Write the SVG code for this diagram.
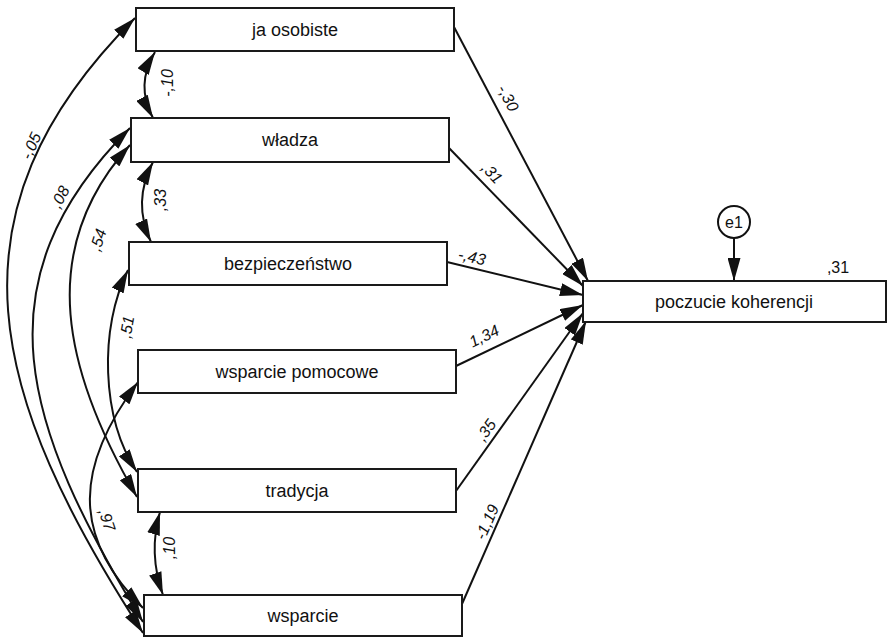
<svg xmlns="http://www.w3.org/2000/svg" width="887" height="638" viewBox="0 0 887 638">
<style>
.box{fill:#fff;stroke:#1a1a1a;stroke-width:2}
.bt{font-family:"Liberation Sans",Arial,sans-serif;font-size:18px;fill:#111;text-anchor:middle;dominant-baseline:central}
.lb{font-family:"Liberation Sans",Arial,sans-serif;font-size:16px;font-style:italic;fill:#111;text-anchor:middle;dominant-baseline:central}
.lu{font-family:"Liberation Sans",Arial,sans-serif;font-size:16px;fill:#111;text-anchor:middle;dominant-baseline:central}
.c{fill:none;stroke:#111;stroke-width:2}
.one{marker-end:url(#ah)}
.two{marker-start:url(#ah);marker-end:url(#ah)}
</style>
<defs>
<marker id="ah" viewBox="0 0 23 13" refX="23" refY="6.5" markerWidth="23" markerHeight="13" markerUnits="userSpaceOnUse" orient="auto-start-reverse">
<path d="M0,0 L23,6.5 L0,13 z" fill="#111"/>
</marker>
</defs>
<g id="connectors">
<path class="c one" d="M454,27 L588,281"/>
<path class="c one" d="M449,148 L583,286"/>
<path class="c one" d="M447,262 L583,295"/>
<path class="c one" d="M456,366 L583,305"/>
<path class="c one" d="M456,491 L583,313"/>
<path class="c one" d="M462,604 L586,321"/>
<path class="c one" d="M734,238 L734,281"/>
<path class="c two" d="M155,52 Q135,85 153,118"/>
<path class="c two" d="M153,162 Q132,202 151,242"/>
<path class="c two" d="M160,512 Q148,553 163,595"/>
<path class="c two" d="M135,18 C-62,215 -9,398 143,633"/>
<path class="c two" d="M130,128 C-24,282 23,426 143,622"/>
<path class="c two" d="M130,145 C34,251 65,373 137,497"/>
<path class="c two" d="M128,270 C99,328 101,418 137,472"/>
<path class="c two" d="M138,382 C76,465 70,535 143,608"/>
<text class="lb" transform="translate(508,98) rotate(62)">-,30</text>
<text class="lb" transform="translate(492,173) rotate(46)">,31</text>
<text class="lb" transform="translate(472,257) rotate(13)">-,43</text>
<text class="lb" transform="translate(484,336) rotate(-26)">1,34</text>
<text class="lb" transform="translate(486,430) rotate(-54)">,35</text>
<text class="lb" transform="translate(487,522) rotate(-66)">-1,19</text>
<text class="lb" transform="translate(167,83) rotate(-90)">-,10</text>
<text class="lb" transform="translate(160,200) rotate(-90)">,33</text>
<text class="lb" transform="translate(169,548) rotate(-90)">,10</text>
<text class="lb" transform="translate(31,146) rotate(-66)">-,05</text>
<text class="lb" transform="translate(60,197) rotate(-62)">,08</text>
<text class="lb" transform="translate(98,240) rotate(-72)">,54</text>
<text class="lb" transform="translate(127,327) rotate(-80)">,51</text>
<text class="lb" transform="translate(107,520) rotate(72)">,97</text>
</g>
<g id="ja_osobiste"><rect class="box" x="136" y="8" width="318" height="43"/><text class="bt" x="295" y="30">ja osobiste</text></g>
<g id="wladza"><rect class="box" x="131" y="118" width="318" height="44"/><text class="bt" x="290" y="140">władza</text></g>
<g id="bezpieczenstwo"><rect class="box" x="129" y="242" width="318" height="43"/><text class="bt" x="288" y="264">bezpieczeństwo</text></g>
<g id="wsparcie_pomocowe"><rect class="box" x="138" y="350" width="318" height="43"/><text class="bt" x="297" y="372">wsparcie pomocowe</text></g>
<g id="tradycja"><rect class="box" x="138" y="469" width="318" height="43"/><text class="bt" x="297" y="491">tradycja</text></g>
<g id="wsparcie"><rect class="box" x="144" y="595" width="318" height="41"/><text class="bt" x="303" y="616">wsparcie</text></g>
<g id="poczucie_koherencji"><rect class="box" x="583" y="281" width="303" height="41"/><text class="bt" x="734" y="302">poczucie koherencji</text><text class="lu" x="838" y="267">,31</text></g>
<g id="e1"><circle cx="734" cy="222" r="16" fill="#fff" stroke="#111" stroke-width="2"/><text class="lu" x="734" y="222">e1</text></g>
</svg>
